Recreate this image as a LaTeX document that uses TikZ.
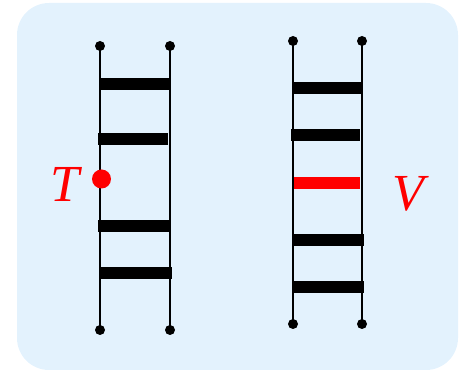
\documentclass[tikz,border=0pt]{standalone}
\usepackage{fontspec}
\newfontfamily\lblfont{Liberation Serif}
\definecolor{bgblue}{HTML}{E3F2FD}
\definecolor{tred}{HTML}{FF0000}
\tikzset{
  rail/.style={line width=2.2pt, black},
  rung/.style={line width=12pt, black},
  redrung/.style={line width=12pt, tred},
  enddot/.style={circle, fill=black, inner sep=0pt, minimum size=10pt},
  reddot/.style={circle, fill=tred, inner sep=0pt, minimum size=19pt},
  lbl/.style={text=tred, inner sep=0pt, font=\lblfont\itshape\fontsize{52}{52}\selectfont}
}
\begin{document}
\begin{tikzpicture}[x=1pt,y=-1pt]
\useasboundingbox (0,0) rectangle (464,371);
\fill[bgblue, rounded corners=32pt] (17,3) rectangle (458,370);
% left ladder
\coordinate (LT1) at (100,46); \coordinate (LT2) at (170,46);
\coordinate (LB1) at (100,330); \coordinate (LB2) at (170,330);
\draw[rail] (LT1) -- (LB1);
\draw[rail] (LT2) -- (LB2);
\coordinate (a1) at (100,84);  \coordinate (b1) at (170,84);
\coordinate (a2) at (98,139);  \coordinate (b2) at (168,139);
\coordinate (a3) at (98,226);  \coordinate (b3) at (170,226);
\coordinate (a4) at (100,273); \coordinate (b4) at (172,273);
\draw[rung] (a1) -- (b1);
\draw[rung] (a2) -- (b2);
\draw[rung] (a3) -- (b3);
\draw[rung] (a4) -- (b4);
\node[enddot] (dLT1) at (LT1) {};
\node[enddot] (dLT2) at (LT2) {};
\node[enddot] (dLB1) at (LB1) {};
\node[enddot] (dLB2) at (LB2) {};
\node[reddot] (T) at (101.5,179) {};
\node[lbl, anchor=base] (Tl) at (65,202) {T};
% right ladder
\coordinate (RT1) at (293,41); \coordinate (RT2) at (362,41);
\coordinate (RB1) at (293,324); \coordinate (RB2) at (362,324);
\draw[rail] (RT1) -- (RB1);
\draw[rail] (RT2) -- (RB2);
\coordinate (c1) at (293,88);  \coordinate (e1) at (362,88);
\coordinate (c2) at (291,135); \coordinate (e2) at (360,135);
\coordinate (c3) at (294,183); \coordinate (e3) at (360,183);
\coordinate (c4) at (293,240); \coordinate (e4) at (364,240);
\coordinate (c5) at (293,287); \coordinate (e5) at (364,287);
\draw[rung] (c1) -- (e1);
\draw[rung] (c2) -- (e2);
\draw[redrung] (c3) -- (e3);
\draw[rung] (c4) -- (e4);
\draw[rung] (c5) -- (e5);
\node[enddot] (dRT1) at (RT1) {};
\node[enddot] (dRT2) at (RT2) {};
\node[enddot] (dRB1) at (RB1) {};
\node[enddot] (dRB2) at (RB2) {};
\node[lbl, anchor=base] (Vl) at (408,211) {V};
\end{tikzpicture}
\end{document}
